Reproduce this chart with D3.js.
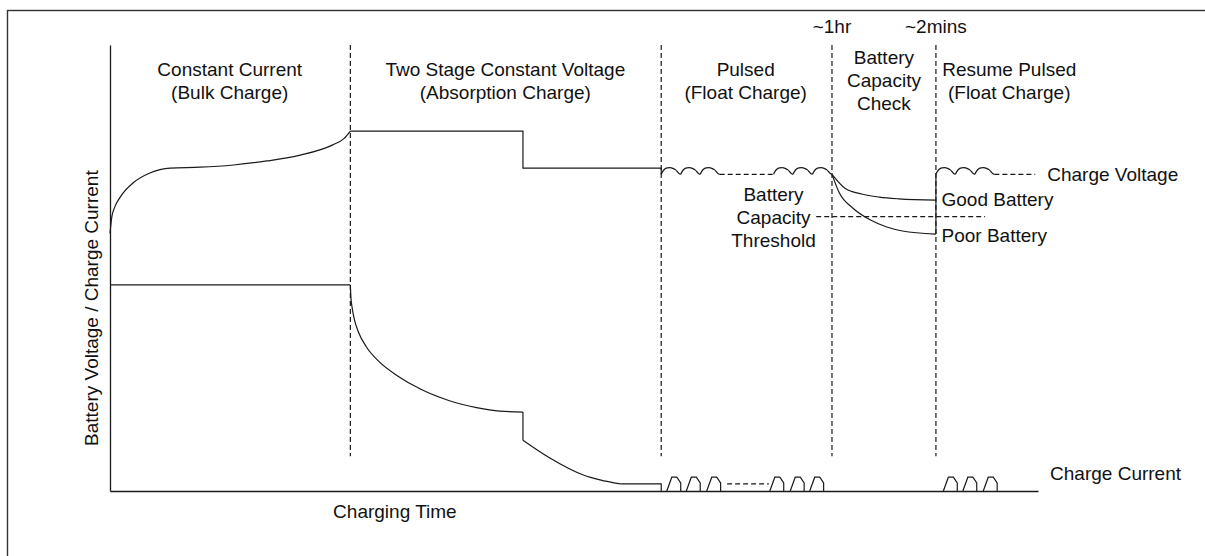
<!DOCTYPE html>
<html>
<head>
<meta charset="utf-8">
<script src="https://cdn.jsdelivr.net/npm/d3@7/dist/d3.min.js"></script>
<style>
  body { margin: 0; background: #fff; }
  svg { display: block; font-family: 'Liberation Sans', Arial, sans-serif; }
</style>
</head>
<body>
<svg id="chart" width="1205" height="556"></svg>
<script>
// time in arbitrary units (0..1000), level in arbitrary units (0..100)
const stageBounds = [259, 594, 778, 890];
const stageTitles = [
  ['Constant Current', '(Bulk Charge)'],
  ['Two Stage Constant Voltage', '(Absorption Charge)'],
  ['Pulsed', '(Float Charge)'],
  ['Battery', 'Capacity', 'Check'],
  ['Resume Pulsed', '(Float Charge)']
];
const stageTitleAt = [129, 426, 685, 834, 969];
const markerLabels = ['~1hr', '~2mins'];
const markerAt = [778, 890];

// voltage
const voltageBulk = [[0, 57.8], [2, 61.5], [5, 63.6], [11, 65.9], [25, 69.1], [43, 71.3], [65, 72.4],
  [97, 72.6], [133, 73.1], [169, 74.0], [205, 75.3], [240, 77.6], [252, 79.0], [259, 80.7]];
const voltageAbsorb = [[259, 80.7], [445, 80.7], [445, 72.4], [594, 72.4], [594, 71.0]];
const humpShape = [[0, 0], [1.5, 0.6], [3.5, 1.15], [6.5, 1.45], [9.5, 1.5], [12.5, 1.35],
  [15.5, 1.0], [18, 0.45], [19.5, 0.12], [21, 0]];
const humpStarts = [594, 615, 636, 715, 736, 757, 890, 911, 932];
const voltageBase = 71.0;
const voltageDashed = [[[657, 71.0], [715, 71.0]], [[953, 71.0], [997, 71.0]]];
const goodBattery = [[778, 71.0], [792, 67.9], [810, 66.6], [829, 65.9], [850, 65.5], [890, 65.2]];
const poorBattery = [[778, 71.0], [786, 66.8], [800, 63.5], [819, 60.8], [837, 59.2], [854, 58.3], [890, 57.6]];
const resumeStep = [[890, 57.6], [890, 71.0]];
const threshold = [[761, 61.5], [943, 61.5]];

// current
const currentBulk = [[0, 46.2], [259, 46.2]];
const currentAbsorb1 = [[259, 46.2], [259.6, 43.5], [261, 41.0], [263.5, 38.3], [268, 35.5], [276, 32.4],
  [290, 29.0], [310, 25.8], [335, 22.8], [365, 20.3], [395, 18.7], [420, 17.9], [445, 17.7]];
const currentStep = [[445, 17.7], [445, 11.4]];
const currentAbsorb2 = [[445, 11.4], [474, 7.4], [510, 3.6], [528, 2.5], [550, 1.6]];
const currentFloatIn = [[550, 1.6], [594, 1.6], [594, 0]];
const pulseShape = [[0, 0], [5.4, 3.1], [10.8, 3.1], [15, 1.8], [15, 0]];
const pulseStarts = [600, 621, 643, 711, 733, 754, 898, 919, 941];
const currentDashed = [[665, 1.6], [710, 1.6]];

const svg = d3.select('svg#chart');
const margin = {top: 45, right: 167, bottom: 65, left: 110};
const width = 1205 - margin.left - margin.right,
  height = 556 - margin.top - margin.bottom;

const ink = '#1a1a1a';
const fontSize = 19;

svg.append('rect')
  .attr('x', 7.5).attr('y', 10.5)
  .attr('width', 1400).attr('height', 800)
  .attr('fill', 'none').attr('stroke', '#333').attr('stroke-width', 1.4);

const g = svg.append('g').attr('transform', `translate(${margin.left},${margin.top})`);

const x = d3.scaleLinear().domain([0, 1000]).range([0, width]);
const y = d3.scaleLinear().domain([0, 100]).range([height, 0]);

g.append('g')
  .attr('transform', `translate(0,${height})`)
  .call(d3.axisBottom(x).ticks(0).tickSizeOuter(0))
  .call((a) => a.select('.domain').attr('stroke', ink).attr('stroke-width', 1.3));
g.append('g')
  .call(d3.axisLeft(y).ticks(0).tickSizeOuter(0))
  .call((a) => a.select('.domain').attr('stroke', ink).attr('stroke-width', 1.3));

const smooth = d3.line().x((d) => x(d[0])).y((d) => y(d[1])).curve(d3.curveMonotoneX);
const straight = d3.line().x((d) => x(d[0])).y((d) => y(d[1]));

function draw(pts, gen, dashed) {
  g.append('path')
    .attr('d', gen(pts))
    .attr('fill', 'none')
    .attr('stroke', ink)
    .attr('stroke-width', 1.2)
    .attr('stroke-dasharray', dashed ? '5,3' : null);
}

// stage dividers
stageBounds.forEach((t) => draw([[t, 100], [t, 7.8]], straight, true));

// voltage
draw(voltageBulk, smooth);
draw(voltageAbsorb, straight);
humpStarts.forEach((t0) => draw(humpShape.map((p) => [t0 + p[0], voltageBase + p[1]]), smooth));
voltageDashed.forEach((seg) => draw(seg, straight, true));
draw(goodBattery, smooth);
draw(poorBattery, smooth);
draw(resumeStep, straight);
draw(threshold, straight, true);

// current
draw(currentBulk, straight);
draw(currentAbsorb1, smooth);
draw(currentStep, straight);
draw(currentAbsorb2, smooth);
draw(currentFloatIn, straight);
pulseStarts.forEach((t0) => draw(pulseShape.map((p) => [t0 + p[0], p[1]]), straight));
draw(currentDashed, straight, true);

function label(lines, px, py, anchor) {
  const t = g.append('text')
    .attr('x', px).attr('y', py)
    .attr('text-anchor', anchor || 'middle')
    .attr('font-size', fontSize)
    .attr('fill', '#111');
  lines.forEach((s, i) => {
    t.append('tspan')
      .attr('x', px)
      .attr('dy', i === 0 ? `${0.35 - (lines.length - 1) * 0.6}em` : '1.2em')
      .text(s);
  });
}

// stage titles, centred around a common line above the plot
stageTitles.forEach((lines, i) => label(lines, x(stageTitleAt[i]), 80.5 - margin.top, 'middle'));
markerLabels.forEach((s, i) => g.append('text')
  .attr('x', x(markerAt[i])).attr('y', 33 - margin.top)
  .attr('text-anchor', 'middle').attr('font-size', fontSize).attr('fill', '#111')
  .text(s));

label(['Charge Voltage'], x(1010), y(70.9), 'start');
label(['Good Battery'], x(896), y(65.3), 'start');
label(['Poor Battery'], x(896), y(57.4), 'start');
label(['Battery', 'Capacity', 'Threshold'], x(715), y(61.3), 'middle');
label(['Charge Current'], x(1013), y(4.0), 'start');

g.append('text')
  .attr('x', x(307)).attr('y', height + 27)
  .attr('text-anchor', 'middle').attr('font-size', fontSize).attr('fill', '#111')
  .text('Charging Time');
g.append('text')
  .attr('transform', `translate(${-12},${y(41)}) rotate(-90)`)
  .attr('text-anchor', 'middle').attr('font-size', fontSize).attr('fill', '#111')
  .text('Battery Voltage / Charge Current');
</script>
</body>
</html>
